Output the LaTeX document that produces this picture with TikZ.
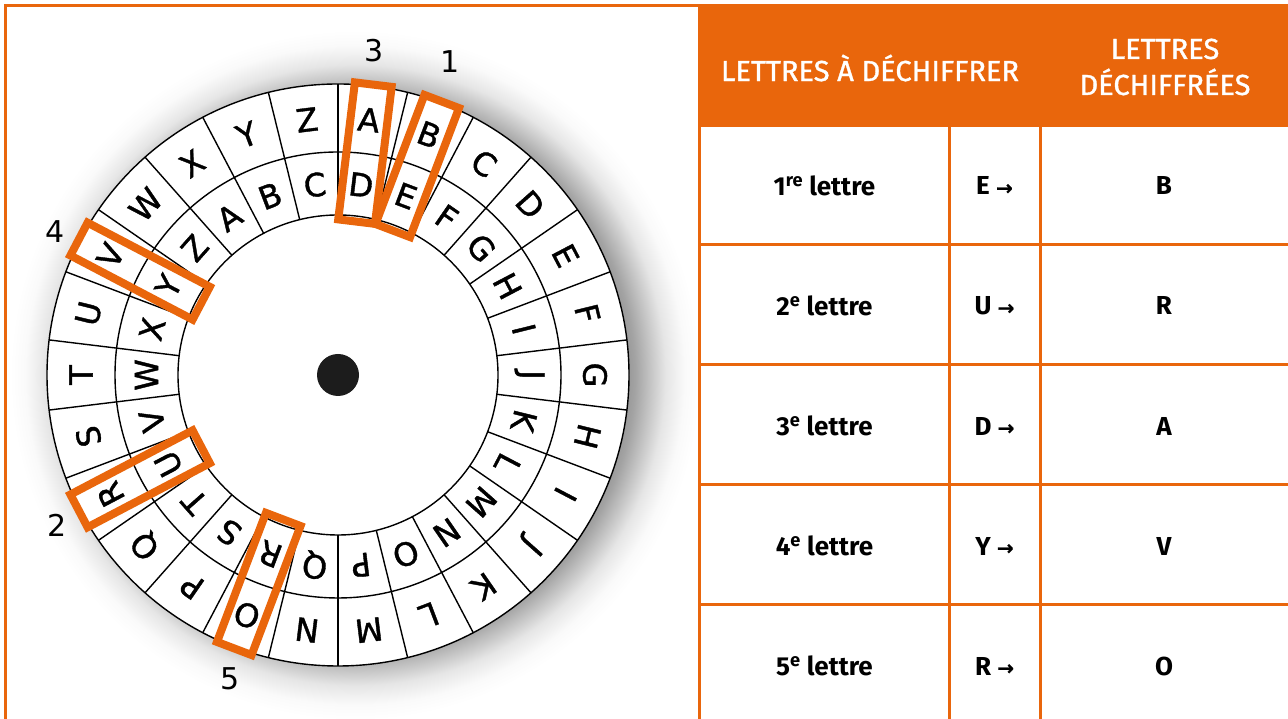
\documentclass[tikz,border=0pt]{standalone}
\usepackage{fontspec}
\setmainfont{Fira Sans}
\newfontfamily\wheelfont[FakeBold=1.2]{DejaVu Sans}
\newfontfamily\numfont{DejaVu Sans}
\newfontfamily\headfont[FakeBold=1.2]{Fira Sans}
\newfontfamily\arrowfont[FakeBold=0.8]{DejaVu Sans}
\definecolor{orng}{RGB}{233,102,12}
\definecolor{dotc}{RGB}{28,28,28}
\pgfdeclareradialshading{wshadow}{\pgfpoint{0bp}{0bp}}{color(0bp)=(black!45); color(19.1bp)=(black!45); color(20.3bp)=(black!36); color(21.3bp)=(black!24); color(22.5bp)=(black!10); color(23.9bp)=(black!2); color(25bp)=(white); color(50bp)=(white)}
\begin{document}
\begin{tikzpicture}[x=1pt,y=1pt,
  ring/.style={draw=black, line width=1.4pt},
  wl/.style={font=\wheelfont\fontsize{32}{32}\selectfont, inner sep=0pt},
  hl/.style={rectangle, draw=orng, line width=8pt, minimum width=37pt, minimum height=138pt, inner sep=0pt},
  numl/.style={font=\numfont\fontsize{30}{30}\selectfont, inner sep=0pt},
  tline/.style={draw=orng, line width=3pt},
  cell/.style={font=\bfseries\fontsize{26}{30}\selectfont, inner sep=0pt},
  head/.style={font=\headfont\fontsize{29}{36}\selectfont, text=white, align=center, inner sep=0pt}
]
\useasboundingbox (0,0) rectangle (1288,719);
\fill[white] (0,0) rectangle (1288,719);

% ---------- wheel ----------
\begin{scope}[shift={(338,344)}]
  \shade[shading=wshadow] (17,0) circle (345);
  \fill[white] (0,0) circle (291);
  \draw[ring] (0,0) circle (291);
  \draw[ring] (0,0) circle (223);
  \draw[ring] (0,0) circle (160);
  \foreach \k in {0,...,25} {
    \draw[ring] ({90-\k*360/26}:160) -- ({90-\k*360/26}:291);
  }
  \foreach \L [count=\i from 0] in {A,B,C,D,E,F,G,H,I,J,K,L,M,N,O,P,Q,R,S,T,U,V,W,X,Y,Z} {
    \pgfmathsetmacro\ang{90-(\i+0.5)*360/26}
    \node[wl, rotate=\ang-90] (o\L) at (\ang:257) {\L};
  }
  \foreach \L [count=\i from 0] in {D,E,F,G,H,I,J,K,L,M,N,O,P,Q,R,S,T,U,V,W,X,Y,Z,A,B,C} {
    \pgfmathsetmacro\ang{90-(\i+0.5)*360/26}
    \node[wl, rotate=\ang-90] (i\L) at (\ang:191.5) {\L};
  }
  \foreach \n/\i in {b1/1, b2/17, b3/0, b4/21, b5/14} {
    \pgfmathsetmacro\ang{90-(\i+0.5)*360/26}
    \node[hl, rotate=\ang-90] (\n) at (\ang:223.5) {};
  }
  \fill[dotc] (0,0) circle (21);
  \node[inner sep=0pt, minimum size=1pt] (hub) at (0,0) {};
\end{scope}
\node[numl] (n1) at (450,657) {1};
\node[numl] (n3) at (374,668) {3};
\node[numl] (n4) at (55,487) {4};
\node[numl] (n2) at (57,194) {2};
\node[numl] (n5) at (230,40) {5};

% ---------- frame ----------
\draw[tline] (5.5,0) -- (5.5,713.5) -- (699.5,713.5);

% ---------- table ----------
\fill[orng] (699.5,593.5) rectangle (1288,715);
\draw[tline] (699.5,0) -- (699.5,715);
\draw[tline] (949.5,0) -- (949.5,593.5);
\draw[tline] (1040,0) -- (1040,593.5);
\foreach \yy in {593.5,474,354,234,114} {
  \draw[tline] (699.5,\yy) -- (1288,\yy);
}
\node[head] (h1) at (870,651) {LETTRES À DÉCHIFFRER};
\node[head] (h2) at (1165,652) {LETTRES\\DÉCHIFFRÉES};

\node[cell] (r1a) at (824.5,533) {1\textsuperscript{re} lettre};
\node[cell] (r1b) at (994.5,533) {E {\arrowfont\fontsize{20}{20}\selectfont →}};
\node[cell] (r1c) at (1164,533) {B};
\node[cell] (r2a) at (824.5,413) {2\textsuperscript{e} lettre};
\node[cell] (r2b) at (994.5,413) {U {\arrowfont\fontsize{20}{20}\selectfont →}};
\node[cell] (r2c) at (1164,413) {R};
\node[cell] (r3a) at (824.5,293) {3\textsuperscript{e} lettre};
\node[cell] (r3b) at (994.5,293) {D {\arrowfont\fontsize{20}{20}\selectfont →}};
\node[cell] (r3c) at (1164,293) {A};
\node[cell] (r4a) at (824.5,173) {4\textsuperscript{e} lettre};
\node[cell] (r4b) at (994.5,173) {Y {\arrowfont\fontsize{20}{20}\selectfont →}};
\node[cell] (r4c) at (1164,173) {V};
\node[cell] (r5a) at (824.5,53) {5\textsuperscript{e} lettre};
\node[cell] (r5b) at (994.5,53) {R {\arrowfont\fontsize{20}{20}\selectfont →}};
\node[cell] (r5c) at (1164,53) {O};
\end{tikzpicture}
\end{document}
